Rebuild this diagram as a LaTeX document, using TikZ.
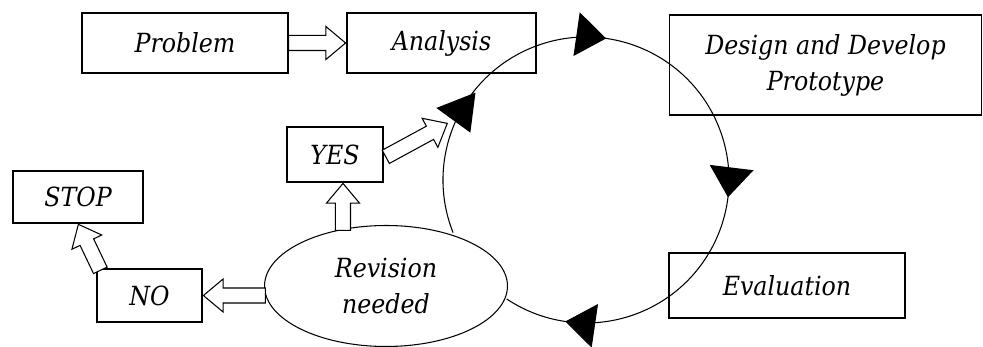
\documentclass[tikz,border=0pt]{standalone}
\usepackage{fontspec}
\setmainfont{DejaVu Serif Condensed}
\usetikzlibrary{shapes.geometric, shapes.arrows, arrows.meta, positioning, calc, decorations.markings}

\begin{document}
\begin{tikzpicture}[
    x=0.02cm, y=-0.02cm,
    box/.style={rectangle, draw=black, line width=0.7pt, inner sep=0pt, align=center, font=\itshape\fontsize{15}{20.5}\selectfont},
    decision/.style={ellipse, draw=black, line width=0.6pt, inner sep=0pt, minimum width=4.86cm, minimum height=2.42cm, align=center, font=\itshape\fontsize{15}{20.5}\selectfont},
    block/.style={single arrow, draw=black, fill=white, line width=0.6pt, inner xsep=0pt, inner ysep=0.14cm, single arrow head extend=0.18cm, single arrow tip angle=80, minimum width=0pt, sloped, allow upside down, anchor=tip, pos=1},
    cyclearc/.style={draw=black, line width=0.6pt, postaction={decorate}, decoration={markings,
        mark=at position 0.155 with {\fill[rotate=111.5] (14pt,0) -- (-7pt,11.5pt) -- (-7pt,-11.5pt) -- cycle;},
        mark=at position 0.368 with {\arrow{Triangle[length=17pt, width=25pt]}},
        mark=at position 0.641 with {\arrow{Triangle[length=17pt, width=25pt]}},
        mark=at position 0.922 with {\arrow{Triangle[length=17pt, width=25pt]}}}}
]
    \useasboundingbox (0,0) rectangle (983,347);

    % Top row
    \node[box, minimum width=4.12cm, minimum height=1.2cm] (problem) at (185,43) {Problem};
    \node[box, minimum width=3.78cm, minimum height=1.2cm] (analysis) at (441.5,43) {Analysis};
    \node[box, minimum width=6.24cm, minimum height=2.0cm] (design) at (825.5,65) {Design and Develop\\Prototype};

    % Right side
    \node[box, minimum width=4.72cm, minimum height=1.3cm] (evaluation) at (787,285.5) {Evaluation};

    % Decision part
    \node[decision] (revision) at (386,286) {Revision\\needed};
    \node[box, minimum width=1.92cm, minimum height=1.1cm] (yes) at (335,154.5) {YES};
    \node[box, minimum width=2.1cm, minimum height=1.06cm] (no) at (149.5,295.5) {NO};
    \node[box, minimum width=2.6cm, minimum height=1.04cm] (stop) at (78,197) {STOP};

    % Block arrows
    \coordinate (cyclein) at (448,123);
    \path (problem.east) -- node[block, minimum height=1.14cm] {} (analysis.west);
    \path (revision.127) -- node[block, minimum height=0.94cm] {} (revision.127 |- yes.south);
    \path (no.east -| revision.west) -- node[block, minimum height=1.24cm] {} (no.east);
    \path ([xshift=0.06cm]no.north west) -- node[block, minimum height=1.02cm] {} (stop.south);
    \path ([yshift=-0.07cm]yes.east) -- node[block, minimum height=1.4cm] {} (cyclein);

    % Cycle
    \coordinate (cyc) at (586,180);
    \path[cyclearc] (cyc) ++(158.4:143) arc[start angle=158.4, end angle=483.7, radius=143];

\end{tikzpicture}
\end{document}
